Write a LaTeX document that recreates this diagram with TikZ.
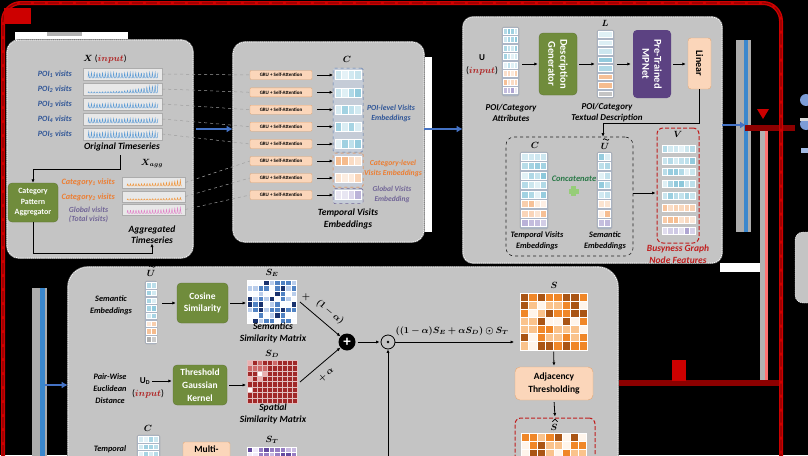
\documentclass[tikz,border=0pt]{standalone}
\usepackage{amsmath}
\usepackage{bm}
\usepackage{fontspec}
\setmainfont{Carlito}
\usetikzlibrary{calc,arrows.meta}

\definecolor{panelgray}{RGB}{196,196,196}
\definecolor{ggreen}{RGB}{112,140,60}
\definecolor{mpurple}{RGB}{92,66,130}
\definecolor{peach}{RGB}{251,214,186}
\definecolor{peachd}{RGB}{228,168,120}
\definecolor{inred}{RGB}{175,30,30}
\definecolor{txblue}{RGB}{47,85,151}
\definecolor{txorange}{RGB}{237,125,49}
\definecolor{txpurple}{RGB}{112,100,150}
\definecolor{txgreen}{RGB}{40,120,70}
\definecolor{txred}{RGB}{192,30,30}
\definecolor{tsblue}{RGB}{91,155,213}
\definecolor{tsorange}{RGB}{240,150,60}
\definecolor{tspink}{RGB}{225,130,200}
\definecolor{embblue}{RGB}{80,170,200}
\definecolor{emborange}{RGB}{240,150,80}
\definecolor{embpurple}{RGB}{130,115,185}
\definecolor{colbg}{RGB}{172,182,198}
\definecolor{barblue}{RGB}{68,114,196}
\definecolor{framered}{RGB}{205,0,0}
\definecolor{darkred}{RGB}{140,0,0}
\definecolor{plusgreen}{RGB}{150,205,120}
\definecolor{se1}{RGB}{250,252,255}
\definecolor{se2}{RGB}{185,205,235}
\definecolor{se3}{RGB}{80,130,195}
\definecolor{se4}{RGB}{25,50,110}
\definecolor{sd1}{RGB}{255,250,250}
\definecolor{sd2}{RGB}{235,175,175}
\definecolor{sd3}{RGB}{205,105,105}
\definecolor{sd4}{RGB}{160,40,40}
\definecolor{st1}{RGB}{240,235,250}
\definecolor{st2}{RGB}{200,185,225}
\definecolor{st3}{RGB}{150,125,195}
\definecolor{st4}{RGB}{100,75,160}
\definecolor{so1}{RGB}{255,245,235}
\definecolor{so2}{RGB}{250,195,140}
\definecolor{so3}{RGB}{240,135,40}
\definecolor{so4}{RGB}{170,85,20}

% embedding row: name, cx, cy, w, h, ncells, colour
\newcommand{\embrow}[7]{%
  \node[inner sep=0pt, outer sep=0pt, minimum width={#4}, minimum height={#5}] (#1) at ({#2},{#3}) {};
  \foreach \cq in {1,...,#6}{%
    \pgfmathtruncatemacro{\rr}{random(15,65)}%
    \filldraw[fill=#7!\rr!white, draw=white, line width=0.3pt]
      ($(#1.north west)+({(\cq-1)*#4/#6},0)$) rectangle ++({#4/#6},{#5});
  }%
}
% column background: name, x1, y1, x2, y2
\newcommand{\colbox}[5]{%
  \node[fill=colbg, draw=gray!80, line width=.3pt, rounded corners=1.5pt, inner sep=0pt,
        minimum width={#4-#2}, minimum height={#5-#3}] (#1) at ({(#2+#4)/2},{(#3+#5)/2}) {};
}
% matrix: name, x, y, cols, rows, cw, ch, palette
\newcommand{\matgrid}[8]{%
  \foreach \ci in {1,...,#4}{\foreach \cj in {1,...,#5}{%
    \pgfmathtruncatemacro{\rr}{random(1,4)}%
    \filldraw[fill=#8\rr, draw=white, line width=0.35pt]
      ({#2+(\ci-1)*#6},{#3+(\cj-1)*#7}) rectangle ++(#6,#7);
  }}%
  \node[inner sep=0pt, outer sep=0pt, minimum width={#4*#6}, minimum height={#5*#7}]
     (#1) at ({#2+#4*#6/2},{#3+#5*#7/2}) {};
}
% time series: x0, length, base y, amplitude expr, colour
\newcommand{\tsplot}[5]{%
  \draw[#5, line width=.45pt] plot[domain=0:#2, samples=200]
     ({#1+\x},{#3-(#4)*(0.5+0.5*sin(130*\x))^4});
}
% drawn accents
\newcommand{\tildeat}[2]{%
  \draw[line width=.75pt] ({#1-3},{#2}) .. controls ({#1-1.5},{#2-2.6}) and ({#1+1.5},{#2+2.6}) .. ({#1+3},{#2});
}
\newcommand{\hatat}[2]{%
  \draw[line width=.75pt] ({#1-2.6},{#2+1.2}) -- ({#1},{#2-1.3}) -- ({#1+2.6},{#2+1.2});
}
\newcommand{\bi}[1]{\fontsize{#1}{12}\selectfont\bfseries\itshape}

\begin{document}
\begin{tikzpicture}[x=1pt,y=-1pt,
  panel/.style={fill=panelgray, draw=white, dash pattern=on 1.2pt off 0.9pt, line width=.7pt,
     inner sep=0pt, preaction={draw=black!55, line width=1.8pt, solid}},
  arr/.style={-{Latex[length=3.5pt,width=3.2pt]}, line width=.8pt, black},
  bluearr/.style={-{Latex[length=6pt,width=7pt]}, line width=2.6pt, barblue},
  dline/.style={gray!75, dashed, line width=.5pt},
  lbl/.style={align=center, inner sep=0pt},
  mlbl/.style={font=\fontsize{9}{10}\selectfont, inner sep=0pt},
  greenbox/.style={fill=ggreen, draw=ggreen!80!black, line width=.3pt, rounded corners=4pt, text=white,
     font=\fontsize{9.5}{12.5}\selectfont\bfseries, align=center, inner sep=0pt},
  peachbox/.style={fill=peach, draw=peachd, line width=.4pt, rounded corners=3pt,
     font=\fontsize{9.5}{12.5}\selectfont\bfseries, align=center, inner sep=0pt},
  grubox/.style={fill=peach, draw=peachd, line width=.4pt, rounded corners=1pt,
     minimum width=62, minimum height=9, inner sep=0pt, font=\fontsize{5}{5}\selectfont\bfseries},
  tsbox/.style={fill=gray!18, draw=gray!65, line width=.4pt, inner sep=0pt},
  reddash/.style={draw=txred, dash pattern=on 4pt off 2pt, line width=1pt, rounded corners=6pt, inner sep=0pt}
]
\useasboundingbox (0,0) rectangle (808,455);
\clip (0,0) rectangle (808,455);
\fill[black] (0,0) rectangle (808,455);
\pgfmathsetseed{11}

% ---------------- artefacts of the screenshot ----------------
\fill[white] (15,32) rectangle (128,40);
\fill[gray!60] (47,32) rectangle (82,36);
\fill[white] (424,57) rectangle (432,232);
\fill[white] (720,263) rectangle (760,272);
\fill[gray!65] (736,40) rectangle (751,232);
\fill[barblue!85!cyan] (744,40) rectangle (748,232);
\fill[gray!65] (32,288) rectangle (47,460);
\fill[barblue!85!cyan] (40,288) rectangle (45,460);
\fill[gray!60] (760,127) rectangle (768,383);
\fill[red!55!white] (765,127) rectangle (768,383);
\fill[darkred] (745,125) rectangle (795,131);
\fill[framered] (757,109) -- (769,109) -- (763,119) -- cycle;
\fill[darkred] (618,380) rectangle (781,386);
\fill[framered] (672,360) rectangle (686,381);
\node[fill=panelgray, draw=white, dash pattern=on 1.2pt off .9pt, rounded corners=8pt,
      minimum width=40, minimum height=71, inner sep=0pt] (rbox) at (815,267.5) {};
\fill[barblue!70] (806,100) circle (6);
\fill[barblue!70] (806,124) circle (6);
\fill[gray!30] (800,118) rectangle (808,121);
\fill[barblue!50] (801,148) rectangle (808,153);

% red frame
\draw[framered, line width=4pt, rounded corners=18pt] (3,470) -- (3,3) -- (781,3) -- (781,470);
\draw[darkred, line width=1.2pt, dash pattern=on 11pt off 3pt, rounded corners=18pt] (3,470) -- (3,3) -- (781,3) -- (781,470);
\fill[framered] (4,8) rectangle (31,24);

% ---------------- panels ----------------
\node[panel, rounded corners=12pt, minimum width=186, minimum height=218] (p1) at (100,149) {};
\node[panel, rounded corners=12pt, minimum width=191, minimum height=200] (p2) at (328.5,142) {};
\node[panel, rounded corners=10pt, minimum width=259, minimum height=246] (p3) at (592.5,140) {};
\node[panel, rounded corners=20pt, minimum width=550, minimum height=230] (p4) at (343,382) {};

\coordinate (b1) at (0,129);
\coordinate (b2) at (0,125);
\coordinate (b3) at (0,385);
\coordinate (b4) at (196,129);
\coordinate (b5) at (746,125);
\coordinate (b6) at (45,385);
\draw[bluearr] (b4) -- (p2.west |- b1);
\draw[bluearr] (p2.east |- b1) -- (p3.west |- b1);
\draw[bluearr] (p3.east |- b2) -- (b5);
\draw[bluearr] (b6) -- (p4.west |- b3);

% ---------------- panel 1 : time series ----------------
\node[mlbl] (xin) at (105,59) {$\bm{X}$ (\textcolor{inred}{$\bm{input}$})};
\foreach \i/\y in {1/74,2/89,3/104,4/119,5/134}{
  \node[tsbox, minimum width=79, minimum height=12] (ts\i) at (122.5,\y) {};
  \node[lbl, text=txblue, anchor=east, font=\bi{8}] (lp\i) at (72,\y) {POI\textsubscript{\i} visits};
}
\tsplot{88}{70}{78}{5.5}{tsblue}
\tsplot{88}{70}{93}{1.2+8*(\x/70)^3}{tsblue}
\tsplot{88}{70}{108}{4.5}{tsblue}
\tsplot{88}{70}{123}{4.5}{tsblue}
\tsplot{88}{70}{138}{6}{tsblue}
\node[lbl, font=\bi{9.5}] (origlbl) at (122,147) {Original Timeseries};

\node[greenbox, minimum width=50, minimum height=39, font=\fontsize{8}{10.5}\selectfont\bfseries] (cpa) at (33,202.5) {Category\\Pattern\\Aggregator};
\coordinate (otl) at (120,155);
\coordinate (k2) at (33,169);
\draw[arr] (otl) |- (k2) -- (cpa.north);

\node[mlbl] (xagg) at (152,163) {$\bm{X_{agg}}$};
\node[tsbox, minimum width=63, minimum height=11] (ag1) at (153.5,182.5) {};
\node[tsbox, minimum width=63, minimum height=11] (ag2) at (153.5,196.5) {};
\node[tsbox, minimum width=63, minimum height=11] (ag3) at (153.5,209.5) {};
\tsplot{127}{55}{186}{2.5+4*(\x/55)^4}{tsorange}
\tsplot{127}{55}{200}{1.2+1.5*(\x/55)^4}{tsorange}
\tsplot{127}{55}{213.5}{3.5+3*(\x/55)^4}{tspink}
\node[lbl, text=txorange, anchor=east, font=\bi{8.2}] (lc1) at (115,182) {Category\textsubscript{1} visits};
\node[lbl, text=txorange, anchor=east, font=\bi{8.2}] (lc2) at (115,197) {Category\textsubscript{2} visits};
\node[lbl, text=txpurple, font=\fontsize{7.8}{9}\selectfont\bfseries\itshape] (lgl) at (88.5,214.5) {Global visits\\(Total visits)};
\node[lbl, font=\fontsize{9.5}{11}\selectfont\bfseries\itshape] (agglbl) at (152,234.5) {Aggregated\\Timeseries};
\coordinate (k3) at (152,253);
\draw[arr] (cpa.south) |- (k3) -- (agglbl.south);

% ---------------- panel 2 : GRU ----------------
\foreach \i/\y in {1/75,2/92.3,3/109.7,4/126.7,5/144,6/161,7/178,8/195}{
  \node[grubox] (gru\i) at (281,\y) {GRU + Self-Attention};
}
\foreach \i in {1,...,5}{ \draw[dline] (ts\i.east) -- (gru\i.west); }
\draw[dline] (ag1.east) -- (gru6.west);
\draw[dline] (ag2.east) -- (gru7.west);
\draw[dline] (ag3.east) -- (gru8.west);

\node[fill=colbg!70!white, draw=txblue!80, dashed, line width=.5pt, rounded corners=1.5pt, minimum width=30, minimum height=84, inner sep=0pt] (gblue) at (348,110) {};
\node[fill=colbg!70!white, draw=txorange, dashed, line width=.5pt, rounded corners=1.5pt, minimum width=30, minimum height=34, inner sep=0pt] (gorange) at (348,170) {};
\node[fill=colbg!70!white, draw=txpurple, dashed, line width=.5pt, rounded corners=1.5pt, minimum width=30, minimum height=15, inner sep=0pt] (gpurple) at (348,196) {};
\foreach \i/\y/\cc in {1/75/embblue,2/92.3/embblue,3/109.7/embblue,4/126.7/embblue,5/144/embblue,6/161/emborange,7/178/emborange,8/195/embpurple}{
  \embrow{c\i}{348}{\y}{26}{9}{4}{\cc}
  \draw[arr, shorten <=5pt, shorten >=2pt] (gru\i.east) -- (c\i.west);
}
\node[mlbl] (clbl) at (347,59) {$\bm{C}$};
\node[lbl, text=txblue, font=\fontsize{7.8}{10}\selectfont\bfseries\itshape] (poilv) at (391,113) {POI-level Visits\\Embeddings};
\node[lbl, text=txorange, font=\fontsize{7.7}{9.5}\selectfont\bfseries\itshape] (catlv) at (393,168.5) {Category-level\\Visits Embeddings};
\node[lbl, text=txpurple, font=\fontsize{7.5}{9.5}\selectfont\bfseries\itshape] (glolv) at (392,194.5) {Global Visits\\Embedding};
\node[lbl, font=\fontsize{9.5}{11.5}\selectfont\bfseries\itshape] (tvelbl) at (348,219) {Temporal Visits\\Embeddings};

% ---------------- panel 3 : semantics ----------------
\colbox{ucol}{502}{27}{519}{96}
\foreach \k/\cc in {1/embblue,2/embblue,3/embblue,4/embblue,5/embblue,6/emborange,7/emborange,8/embpurple}{
  \embrow{u\k}{510.5}{{31+8.5*(\k-1)}}{14}{6}{4}{\cc}
}
\node[mlbl] (uin) at (482,58) {$\mathbf{U}$};
\node[mlbl, font=\fontsize{9.5}{10}\selectfont] (uin2) at (482,71) {(\textcolor{inred}{$\bm{input}$})};
\node[greenbox, minimum width=38, minimum height=62] (dg) at (558,64) {};
\node[rotate=-90, text=white, font=\fontsize{10.5}{12}\selectfont\bfseries, align=center, inner sep=0pt] (dgt) at (dg) {Description\\Generator};
\draw[arr, shorten <=3pt, shorten >=1pt] (ucol.east |- dg) -- (dg.west);

\colbox{lcol}{597}{30}{614}{98}
\foreach \k/\cc in {1/embblue,2/embblue,3/embblue,4/embblue,5/embblue,6/emborange,7/emborange,8/gray}{
  \embrow{l\k}{605.5}{{34+8.5*(\k-1)}}{14}{5.5}{1}{\cc}
}
\node[mlbl] (llbl) at (605,23) {$\bm{L}$};
\draw[arr, shorten <=2pt, shorten >=2pt] (dg.east) -- (dg.east -| lcol.west);

\node[fill=mpurple, rounded corners=4pt, minimum width=38, minimum height=68, inner sep=0pt] (mp) at (652,64) {};
\node[rotate=-90, text=white, font=\fontsize{10.5}{12}\selectfont\bfseries, align=center, inner sep=0pt] (mpt) at (mp) {Pre-Trained\\MPNet};
\draw[arr, shorten <=3pt, shorten >=2pt] (lcol.east |- mp) -- (mp.west);

\node[peachbox, minimum width=23, minimum height=51] (lin) at (699.5,63.5) {};
\node[rotate=-90, font=\fontsize{10}{11}\selectfont\bfseries, inner sep=0pt] (lint) at (lin) {Linear};
\draw[arr, shorten <=2pt, shorten >=2pt] (mp.east) -- (mp.east -| lin.west);

\node[lbl, font=\fontsize{9}{11}\selectfont\bfseries\itshape] (attl) at (511,112.5) {POI/Category\\Attributes};
\node[lbl, font=\fontsize{9}{11}\selectfont\bfseries\itshape] (tdl) at (607,112.5) {POI/Category\\Textual Description};

\node[draw=gray!25!black, dashed, line width=.6pt, rounded corners=8pt, minimum width=127, minimum height=119, inner sep=0pt] (inner) at (569.5,196.5) {};
\coordinate (k4) at (603,123);
\draw[arr] (lin.south) |- (k4) -- (k4 |- inner.north);

\colbox{tccol}{520}{152}{548}{229}
\colbox{tucol}{597}{152}{612}{229}
\foreach \k/\cc in {1/embblue,2/embblue,3/embblue,4/embblue,5/embblue,6/emborange,7/emborange,8/embpurple}{
  \embrow{tc\k}{534}{{156.5+9.5*(\k-1)}}{25}{7}{4}{\cc}
  \embrow{tu\k}{604.5}{{156.5+9.5*(\k-1)}}{12}{7}{2}{\cc}
}
\node[mlbl] (tcl) at (535,145) {$\bm{C}$};
\node[mlbl] (tul) at (605,146) {$\bm{U}$};
\tildeat{606}{139.5}
\node[lbl, text=txgreen, font=\fontsize{8.5}{9}\selectfont\bfseries\itshape] (concat) at (574,179) {Concatenate};
\fill[plusgreen] (571,186) rectangle (576,196);
\fill[plusgreen] (568.5,188.5) rectangle (578.5,193.5);
\node[lbl, font=\fontsize{8.3}{10.5}\selectfont\bfseries\itshape] (tvel2) at (537,241) {Temporal Visits\\Embeddings};
\node[lbl, font=\fontsize{8.3}{10.5}\selectfont\bfseries\itshape] (seml2) at (605,241) {Semantic\\Embeddings};

\node[reddash, minimum width=42, minimum height=115] (vbox) at (678,185.5) {};
\coordinate (k5) at (0,193);
\draw[arr, shorten >=1pt] (inner.east |- k5) -- (vbox.west |- k5);
\foreach \k/\cc in {1/embblue,2/embblue,3/embblue,4/embblue,5/embblue,6/emborange,7/emborange,8/embpurple}{
  \embrow{v\k}{678.5}{{148.5+11.8*(\k-1)}}{33}{7}{6}{\cc}
}
\node[mlbl] (vl) at (678,134) {$\bm{V}$};
\node[lbl, text=txred, font=\fontsize{9.5}{12}\selectfont\bfseries\itshape] (bgnf) at (678,254) {Busyness Graph\\Node Features};

% ---------------- panel 4 : graph construction ----------------
\colbox{bucol}{145}{281}{157}{344}
\foreach \k/\cc in {1/embblue,2/embblue,3/embblue,4/embblue,5/embblue,6/emborange,7/emborange,8/gray}{
  \embrow{bu\k}{151}{{285+7.7*(\k-1)}}{10}{5.5}{2}{\cc}
}
\node[mlbl] (bul) at (151,273) {$\bm{U}$};
\tildeat{152}{266.5}
\node[lbl, font=\fontsize{8.3}{12}\selectfont\bfseries\itshape] (seml3) at (111,305.5) {Semantic\\Embeddings};
\node[greenbox, minimum width=51, minimum height=40] (cos) at (202.5,303) {Cosine\\Similarity};
\draw[arr, shorten <=5pt, shorten >=1pt] (bucol.east |- cos) -- (cos.west);

\matgrid{SE}{247}{280}{9}{8}{5.5}{5.4}{se}
\node[mlbl] (sel) at (272,273) {$\bm{S_E}$};
\draw[arr, shorten <=2pt, shorten >=1pt] (cos.east) -- (cos.east -| SE.west);
\node[lbl, font=\fontsize{9.5}{12}\selectfont\bfseries\itshape] (seml4) at (273,333) {Semantics\\Similarity Matrix};

\node[lbl, font=\fontsize{8.3}{12}\selectfont\bfseries\itshape] (pwd) at (110,388.5) {Pair-Wise\\Euclidean\\Distance};
\node[mlbl] (ud) at (145,381) {$\mathbf{U}_{\mathbf{D}}$};
\node[mlbl, font=\fontsize{9.5}{10}\selectfont] (ud2) at (148,394) {(\textcolor{inred}{$\bm{input}$})};
\node[greenbox, minimum width=54, minimum height=40, font=\fontsize{9.5}{13}\selectfont\bfseries] (tgk) at (200,385) {Threshold\\Gaussian\\Kernel};
\draw[arr, shorten <=2pt, shorten >=1pt] (ud.east) -- (ud.east -| tgk.west);

\foreach \ci in {1,...,10}{\foreach \cj in {1,...,8}{%
  \pgfmathtruncatemacro{\rr}{(\ci+\cj<8) ? random(1,4) : 4}%
  \filldraw[fill=sd\rr, draw=white!70!sd4, line width=0.35pt]
    ({247+(\ci-1)*5},{360+(\cj-1)*5.4}) rectangle ++(5,5.4);
}}
\node[inner sep=0pt, outer sep=0pt, minimum width=50, minimum height=43.2] (SD) at (272,381.6) {};
\node[mlbl] (sdl) at (272,354) {$\bm{S_D}$};
\draw[arr, shorten <=2pt, shorten >=1pt] (tgk.east) -- (tgk.east -| SD.west);
\node[lbl, font=\fontsize{9.5}{12}\selectfont\bfseries\itshape] (spl) at (273,414) {Spatial\\Similarity Matrix};

\colbox{bccol}{137}{435}{160}{470}
\foreach \k/\cc in {1/embblue,2/embblue,3/embblue,4/embblue}{
  \embrow{bc\k}{148.5}{{439+7.5*(\k-1)}}{20}{5.5}{4}{\cc}
}
\node[mlbl] (bcl) at (148,428) {$\bm{C}$};
\node[lbl, font=\fontsize{8.3}{10}\selectfont\bfseries\itshape] (tmpl) at (110,449) {Temporal};
\node[peachbox, minimum width=47, minimum height=40, rounded corners=2pt] (multi) at (206.5,462) {};
\node[font=\fontsize{9.5}{10}\selectfont\bfseries, inner sep=0pt] (multit) at (206.5,449.5) {Multi-};
\matgrid{ST}{247}{447}{9}{3}{5.5}{5.4}{st}
\node[mlbl] (stl) at (272,440) {$\bm{S_T}$};

\node[circle, fill=black, inner sep=0pt, minimum size=17pt] (plus) at (347,342) {};
\node[text=white, font=\bfseries\fontsize{15}{15}\selectfont, inner sep=0pt] (plust) at (plus) {+};
\node[circle, draw=black, line width=.8pt, minimum size=14pt, inner sep=0pt] (odot) at (388,342) {};
\fill (odot.center) circle (1.3pt);
\coordinate (se1p) at (300,302);
\coordinate (sd1p) at (300,382);
\draw[arr] (se1p) -- (plus);
\draw[arr] (sd1p) -- (plus);
\node[mlbl] (pl1) at (306,297) {$\bm{+}$};
\node[mlbl, rotate=-40] (oma) at (330,312) {$\bm{(1-\alpha)}$};
\node[mlbl, rotate=40] (pa) at (326,375) {$\bm{+\,\alpha}$};
\draw[arr, shorten <=2pt, shorten >=1pt] (plus.east) -- (odot.west);
\coordinate (stin) at (388,470);
\draw[arr] (stin) -- (odot.south);
\node[mlbl] (form) at (452,331) {$\bm{((1-\alpha)S_E+\alpha S_D)\odot S_T}$};

\matgrid{S}{520}{293}{8}{7}{8.4}{8.1}{so}
\node[mlbl] (sl) at (554,285) {$\bm{S}$};
\draw[arr, shorten >=6pt] (odot.east) -- (odot.east -| S.west);
\node[peachbox, minimum width=78, minimum height=33, rounded corners=5pt] (adj) at (554,383.5) {Adjacency\\Thresholding};
\draw[arr, shorten <=2pt, shorten >=1pt] (S.south) -- (adj.north);
\node[reddash, minimum width=80, minimum height=62] (shb) at (555,449) {};
\draw[arr, shorten <=2pt, shorten >=1pt] (adj.south) -- (shb.north);
\node[mlbl] (shl) at (554,427) {$\bm{S}$};
\hatat{555}{420.5}
\matgrid{Shat}{521}{433}{8}{4}{8.2}{8.1}{so}

\end{tikzpicture}
\end{document}
